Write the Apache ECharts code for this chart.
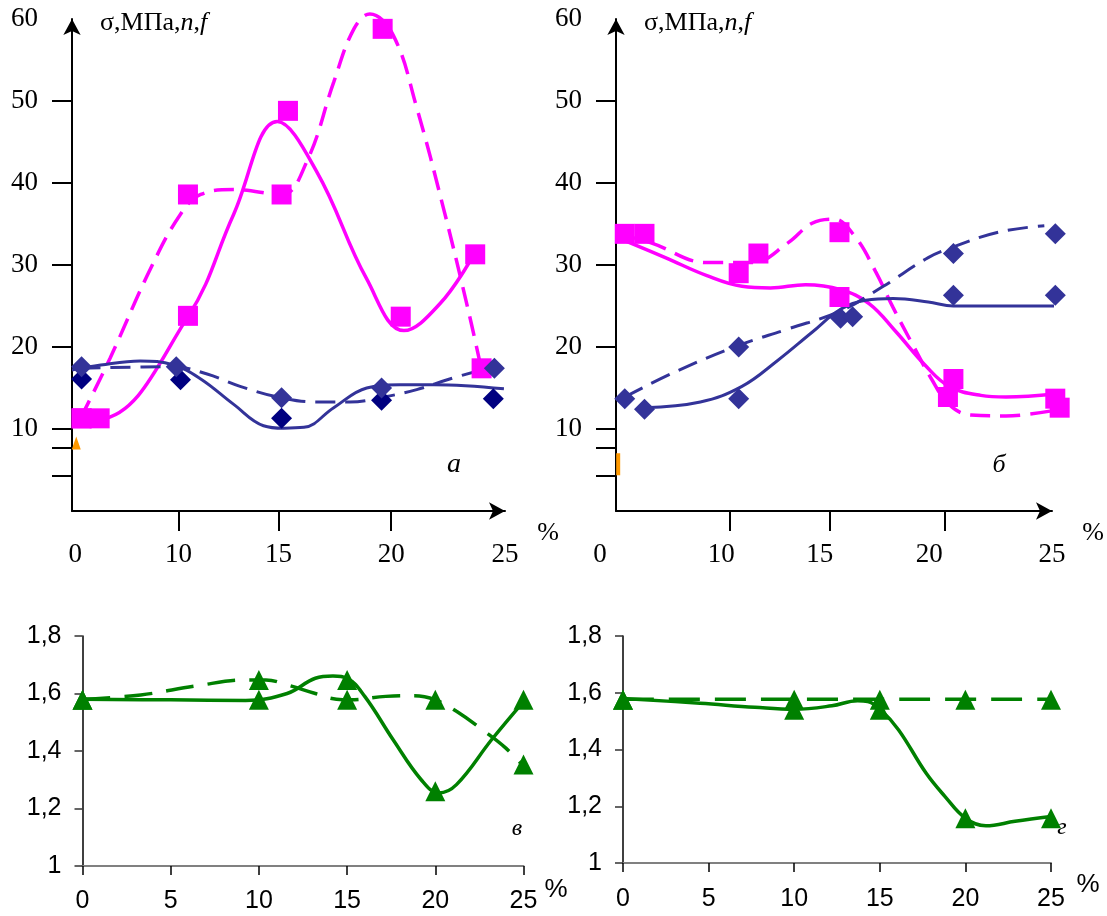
<!DOCTYPE html>
<html>
<head>
<meta charset="utf-8">
<script src="https://cdn.jsdelivr.net/npm/echarts@6/dist/echarts.min.js"></script>
<style>
  html, body { margin: 0; padding: 0; background: #fff; }
  #chart { width: 1107px; height: 916px; }
</style>
</head>
<body>
<div id="chart"></div>
<script>
// top charts: x is measured in axis steps, 0..4 <-> 0, 10, 15, 20, 25 %
const topTickLabels = ['0', '10', '15', '20', '25'];
const aLabelPos = [0.03, 1, 1.94, 3, 4.07];
const aTickPos = [1, 1.94, 3];
const bLabelPos = [0, 0.96, 1.86, 2.86, 3.98];
const bTickPos = [1.035, 1.955, 3];
const topYLabels = [10, 20, 30, 40, 50, 60];
const topYTicks = [4.3, 7.7, 10, 20, 30, 40, 50];

// chart "а"
const aPinkSolidMarks = [[0.09, 11.3], [0.26, 11.3], [1.09, 23.8], [2.03, 48.8], [3.09, 23.7], [3.79, 31.3]];
const aPinkDashMarks = [[0.09, 11.3], [1.09, 38.6], [1.97, 38.6], [2.92, 58.8], [3.85, 17.4]];
const aPinkSolidCurve = [[0.03, 11.1], [0.27, 11.2], [1.09, 23.7], [1.52, 36.2], [1.93, 47.5], [2.30, 41.4],
  [2.77, 28.3], [3.12, 22.0], [3.46, 25.3], [3.77, 31.1]];
const aPinkDashCurve = [[0.08, 11.3], [0.36, 18.7], [0.74, 29.6], [1.02, 36.2], [1.21, 38.6], [1.52, 39.2],
  [1.97, 38.6], [2.21, 42.7], [2.46, 52.3], [2.65, 58.8], [2.80, 60.6], [3.02, 58.0], [3.24, 49.2],
  [3.49, 37.0], [3.71, 25.3], [3.84, 17.8]];
const aBlueSolidCurve = [[0, 17.2], [0.27, 17.8], [0.64, 18.3], [0.955, 17.8], [1.21, 16.1], [1.52, 13.0],
  [1.80, 10.4], [1.99, 10.1], [2.18, 10.2], [2.46, 12.6], [2.77, 15.0], [3.08, 15.4], [3.40, 15.4], [4.06, 14.9]];
const aBlueDashCurve = [[0.08, 17.4], [0.955, 17.6], [1.27, 16.7], [1.58, 15.2], [1.97, 13.8], [2.30, 13.3],
  [2.61, 13.3], [2.93, 13.9], [3.24, 14.8], [3.55, 16.1], [3.96, 17.6]];
const aSlateMarks = [[0.09, 17.6], [0.98, 17.6], [1.97, 13.8], [2.91, 15.0], [3.97, 17.4]];
const aNavyMarks = [[0.09, 16.1], [1.02, 16.0], [1.97, 11.3], [2.91, 13.5], [3.96, 13.7]];

// chart "б"
const bPinkSolidMarks = [[0.26, 33.8], [1.12, 29.0], [2.04, 26.1], [3.08, 16.1], [4.01, 13.7]];
const bPinkDashMarks = [[0.08, 33.8], [1.30, 31.4], [2.04, 34.0], [3.03, 13.9], [4.05, 12.6]];
const bPinkSolidCurve = [[0.02, 33.3], [0.45, 30.9], [0.83, 28.7], [1.15, 27.4], [1.41, 27.2], [1.73, 27.6],
  [2.05, 27.0], [2.31, 25.3], [2.56, 21.8], [2.82, 17.8], [3.04, 15.2], [3.33, 14.1], [3.56, 13.9], [4.04, 14.3]];
const bPinkDashCurve = [[0.02, 33.8], [0.32, 32.7], [0.83, 30.3], [1.25, 30.3], [1.57, 32.7], [1.79, 35.1],
  [1.99, 35.6], [2.18, 33.5], [2.37, 29.2], [2.53, 24.8], [2.72, 20.0], [2.88, 16.1], [3.04, 13.0],
  [3.24, 11.7], [3.56, 11.6], [3.97, 12.2]];
const bBlueSolidMarks = [[0.26, 12.4], [1.12, 13.7], [2.05, 23.5], [3.08, 26.3], [4.01, 26.3]];
const bBlueDashMarks = [[0.08, 13.7], [1.12, 20.0], [2.16, 23.7], [3.08, 31.4], [4.01, 33.8]];
const bBlueSolidCurve = [[0.26, 12.6], [0.77, 13.3], [1.15, 15.2], [1.47, 18.3], [1.79, 21.8], [2.05, 24.6],
  [2.28, 25.7], [2.53, 25.9], [2.85, 25.5], [3.08, 25.0], [4.02, 25.0]];
const bBlueDashCurve = [[0.08, 13.9], [0.545, 17.0], [1.12, 20.2], [1.57, 22.2], [2.05, 24.4], [2.44, 27.4],
  [2.85, 30.9], [3.08, 32.2], [3.49, 34.0], [3.91, 34.8]];

// small orange leftovers near the y axis
const aOrangeMarks = [[0.04, 8.3]];
const bOrangeMarks = [[0.02, 5.7]];

// chart "в"
const vSolidMarks = [[0, 1.578], [10, 1.578], [15, 1.647], [20, 1.26], [25, 1.578]];
const vDashMarks = [[0, 1.578], [10, 1.647], [15, 1.578], [20, 1.578], [25, 1.353]];
const vSolidCurve = [[0, 1.58], [5, 1.578], [9.25, 1.576], [11.6, 1.60], [13.2, 1.653], [14.2, 1.661],
  [15, 1.653], [16, 1.59], [17.6, 1.44], [19.2, 1.30], [20.2, 1.254], [21.2, 1.283], [23.2, 1.44], [25, 1.572]];
const vDashCurve = [[0, 1.58], [3.3, 1.595], [6.5, 1.627], [9.25, 1.647], [10.4, 1.647], [11.6, 1.63],
  [13.2, 1.60], [14.4, 1.58], [15.2, 1.578], [17.2, 1.59], [18.8, 1.592], [20, 1.578], [21.2, 1.538],
  [22.8, 1.468], [24, 1.41], [25, 1.347]];

// chart "г"
const gSolidMarks = [[0, 1.575], [10, 1.54], [15, 1.54], [20, 1.158], [25, 1.158]];
const gDashMarks = [[0, 1.575], [10, 1.575], [15, 1.575], [20, 1.575], [25, 1.575]];
const gSolidCurve = [[0, 1.58], [4.5, 1.563], [7.7, 1.549], [10, 1.542], [12.2, 1.554], [13.7, 1.572],
  [14.3, 1.569], [15.05, 1.54], [16.1, 1.469], [17.7, 1.317], [18.8, 1.235], [20, 1.158], [21.2, 1.131],
  [22.9, 1.147], [25, 1.164]];
const gDashCurve = [[0, 1.577], [25, 1.577]];

const PINK = '#FF00FF';
const BLUE = '#333399';
const NAVY = '#000080';
const GREEN = '#008000';
const SERIF = '"Liberation Serif", "Times New Roman", serif';
const SANS = '"Liberation Sans", Arial, sans-serif';

function curve(data, color, dash, idx, width) {
  return {
    type: 'line', xAxisIndex: idx, yAxisIndex: idx, data: data,
    smooth: 0.4, showSymbol: false, clip: false, silent: true, z: 2,
    lineStyle: { color: color, width: width || 3.5, type: dash || 'solid', cap: 'butt' }
  };
}

function marks(data, symbol, color, size, idx) {
  return {
    type: 'scatter', xAxisIndex: idx, yAxisIndex: idx, data: data,
    symbol: symbol, symbolSize: size, clip: false, silent: true, z: 3,
    itemStyle: { color: color, opacity: 1 }
  };
}

function topX(idx, max, labelPos, tickPos) {
  return {
    gridIndex: idx, type: 'value', min: 0, max: max,
    splitLine: { show: false },
    axisLine: { show: true, onZero: false, symbol: ['none', 'arrow'], symbolSize: [13, 16],
      lineStyle: { color: '#000', width: 2 } },
    axisTick: { show: true, customValues: tickPos, length: 20, lineStyle: { color: '#000', width: 2 } },
    axisLabel: {
      customValues: labelPos, margin: 30, fontFamily: SERIF, fontSize: 27, color: '#000',
      formatter: function (v) {
        const i = labelPos.indexOf(v);
        const t = topTickLabels[i];
        return (idx === 1 && i === 0) ? '{shift|' + t + '}' : t;
      },
      rich: { shift: { fontFamily: SERIF, fontSize: 27, color: '#000', padding: [0, 32, 0, 0] } }
    }
  };
}

function topY(idx) {
  return {
    gridIndex: idx, type: 'value', min: 0, max: 60,
    splitLine: { show: false },
    axisLine: { show: true, onZero: false, symbol: ['none', 'arrow'], symbolSize: [13, 16],
      lineStyle: { color: '#000', width: 2 } },
    axisTick: { show: true, customValues: topYTicks, length: 20, lineStyle: { color: '#000', width: 2 } },
    axisLabel: { customValues: topYLabels, margin: 34, fontFamily: SERIF, fontSize: 27, color: '#000' }
  };
}

function bottomX(idx, margin) {
  return {
    gridIndex: idx, type: 'value', min: 0, max: 25, interval: 5,
    splitLine: { show: false },
    axisLine: { show: true, onZero: false, lineStyle: { color: '#808080', width: 2 } },
    axisTick: { show: true, length: 9, lineStyle: { color: '#000', width: 1.5 } },
    axisLabel: { margin: margin, fontFamily: SANS, fontSize: 25, color: '#000' }
  };
}

function bottomY(idx) {
  return {
    gridIndex: idx, type: 'value', min: 1, max: 1.8, interval: 0.2,
    splitLine: { show: false },
    axisLine: { show: true, onZero: false, lineStyle: { color: '#000', width: 1.5 } },
    axisTick: { show: true, length: 8, lineStyle: { color: '#333', width: 1.5 } },
    axisLabel: {
      margin: 21, fontFamily: SANS, fontSize: 25, color: '#000',
      formatter: function (v) { return String(Math.round(v * 10) / 10).replace('.', ','); }
    }
  };
}

function label(text, x, y, font) {
  return { type: 'text', x: x, y: y, silent: true,
    style: { text: text, font: font, fill: '#000', align: 'center', verticalAlign: 'middle' } };
}

function axisTitle(x) {
  return { type: 'text', x: x, y: 23, silent: true,
    style: {
      text: '{r|σ,МПа,}{i|n}{r|,}{i|f}', fill: '#000', verticalAlign: 'middle',
      rich: { r: { font: '26px ' + SERIF, fill: '#000' }, i: { font: 'italic 26px ' + SERIF, fill: '#000' } }
    } };
}

const chart = echarts.init(document.getElementById('chart'));
chart.setOption({
  animation: false,
  backgroundColor: '#fff',
  grid: [
    { left: 72, top: 19, width: 433, height: 492 },
    { left: 616, top: 19, width: 436, height: 492 },
    { left: 82.5, top: 636, width: 441, height: 230 },
    { left: 623, top: 636, width: 428, height: 227 }
  ],
  xAxis: [
    topX(0, 4.07, aLabelPos, aTickPos),
    topX(1, 3.98, bLabelPos, bTickPos),
    bottomX(2, 23),
    bottomX(3, 24)
  ],
  yAxis: [topY(0), topY(1), bottomY(2), bottomY(3)],
  series: [
    marks(aOrangeMarks, 'triangle', '#FF9900', [9, 13], 0),
    curve(aPinkSolidCurve, PINK, 'solid', 0),
    curve(aPinkDashCurve, PINK, [20, 10], 0),
    marks(aPinkSolidMarks, 'rect', PINK, 20, 0),
    marks(aPinkDashMarks, 'rect', PINK, 20, 0),
    curve(aBlueSolidCurve, BLUE, 'solid', 0, 3),
    curve(aBlueDashCurve, BLUE, [20, 10], 0, 3),
    marks(aNavyMarks, 'diamond', NAVY, 21, 0),
    marks(aSlateMarks, 'diamond', BLUE, 21, 0),

    marks(bOrangeMarks, 'rect', '#FF9900', [4, 22], 1),
    curve(bPinkSolidCurve, PINK, 'solid', 1),
    curve(bPinkDashCurve, PINK, [20, 10], 1),
    marks(bPinkSolidMarks, 'rect', PINK, 20, 1),
    marks(bPinkDashMarks, 'rect', PINK, 20, 1),
    curve(bBlueSolidCurve, BLUE, 'solid', 1, 3),
    curve(bBlueDashCurve, BLUE, [20, 10], 1, 3),
    marks(bBlueSolidMarks, 'diamond', BLUE, 21, 1),
    marks(bBlueDashMarks, 'diamond', BLUE, 21, 1),

    curve(vSolidCurve, GREEN, 'solid', 2),
    curve(vDashCurve, GREEN, [28, 14], 2),
    marks(vSolidMarks, 'triangle', GREEN, 20, 2),
    marks(vDashMarks, 'triangle', GREEN, 20, 2),

    curve(gSolidCurve, GREEN, 'solid', 3),
    curve(gDashCurve, GREEN, [31, 15], 3),
    marks(gSolidMarks, 'triangle', GREEN, 20, 3),
    marks(gDashMarks, 'triangle', GREEN, 20, 3)
  ],
  graphic: [
    axisTitle(100),
    axisTitle(644),
    label('а', 454, 465, 'italic 28px ' + SERIF),
    label('б', 999, 465, 'italic 26px ' + SERIF),
    label('%', 548, 533, '26px ' + SERIF),
    label('%', 1093, 533, '26px ' + SERIF),
    label('в', 517, 829, 'italic 24px ' + SERIF),
    label('г', 1062, 828, 'italic 24px ' + SERIF),
    label('%', 556, 890, '26px ' + SANS),
    label('%', 1088, 885, '26px ' + SANS)
  ]
});
</script>
</body>
</html>
